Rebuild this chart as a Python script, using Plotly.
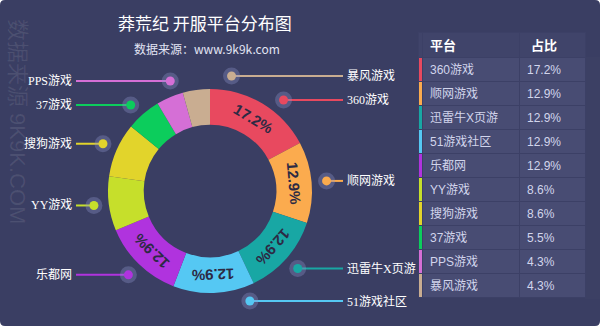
import math
import plotly.graph_objects as go

# ---------------- data ----------------
platforms = ["360游戏", "顺网游戏", "迅雷牛X页游", "51游戏社区", "乐都网",
             "YY游戏", "搜狗游戏", "37游戏", "PPS游戏", "暴风游戏"]
shares = [17.2, 12.9, 12.9, 12.9, 12.9, 8.6, 8.6, 5.5, 4.3, 4.3]
colors = ["#e8495f", "#fbab4e", "#18a7a4", "#55c8f3", "#b033de",
          "#c6df2b", "#e2d42b", "#0ccd5c", "#d56fd6", "#c9ad91"]
title_text = "莽荒纪 开服平台分布图"
subtitle_text = "数据来源：www.9k9k.com"
watermark_text = "数据来源 9K9K.COM"
table_header = ["平台", "占比"]

# ---------------- geometry (pixel space) ----------------
W, H = 600, 326
BG = "#3a3e63"
cx, cy = 210, 191
R_OUT = 102
HOLE = 0.65
R_TXT = R_OUT * (1 + HOLE) / 2
R_DOT = 117
MIN_SHARE_FOR_TEXT = 10  # small slices carry no inner label

total = sum(shares)
mids = []
acc = 0.0
for v in shares:
    mids.append((acc + v / 2) / total * 360.0)
    acc += v

# label anchor points and sides
ax_pts = []
sides = []
for m in mids:
    r = math.radians(m)
    ax_pts.append((cx + R_DOT * math.sin(r), cy - R_DOT * math.cos(r)))
    sides.append("R" if math.sin(r) > -0.2 else "L")


def spread(idx, gap=24, top=76, bottom=301):
    order = sorted(idx, key=lambda i: ax_pts[i][1])
    ys = [ax_pts[i][1] for i in order]
    for _ in range(50):
        for k in range(1, len(ys)):
            d = ys[k] - ys[k - 1]
            if d < gap:
                s = (gap - d) / 2
                ys[k - 1] -= s
                ys[k] += s
    ys[0] = max(ys[0], top)
    for k in range(1, len(ys)):
        ys[k] = max(ys[k], ys[k - 1] + gap)
    ys[-1] = min(ys[-1], bottom)
    for k in range(len(ys) - 2, -1, -1):
        ys[k] = min(ys[k], ys[k + 1] - gap)
    return dict(zip(order, ys))


ypos = {}
ypos.update(spread([i for i in range(len(shares)) if sides[i] == "R"]))
ypos.update(spread([i for i in range(len(shares)) if sides[i] == "L"]))

dots = []
for i in range(len(shares)):
    y = ypos[i]
    dx = math.sqrt(max(R_DOT ** 2 - (y - cy) ** 2, 0))
    x = cx + dx if sides[i] == "R" else cx - dx
    dots.append((x, y))

RIGHT_LINE_END, RIGHT_LABEL_X = 343, 345
LEFT_LINE_END, LEFT_LABEL_X = 76, 74

fig = go.Figure()

# donut
fig.add_trace(go.Pie(
    values=shares, labels=platforms, sort=False, direction="clockwise",
    rotation=0, hole=HOLE, textinfo="none", hoverinfo="skip",
    marker=dict(colors=colors, line=dict(width=0)),
    domain=dict(x=[(cx - R_OUT) / W, (cx + R_OUT) / W],
                y=[(H - cy - R_OUT) / H, (H - cy + R_OUT) / H]),
    showlegend=False,
))

# leader lines + dots
for i, (x, y) in enumerate(dots):
    xe = RIGHT_LINE_END if sides[i] == "R" else LEFT_LINE_END
    fig.add_trace(go.Scatter(x=[x, xe], y=[y, y], mode="lines",
                             line=dict(color=colors[i], width=2),
                             hoverinfo="skip", showlegend=False))
fig.add_trace(go.Scatter(x=[d[0] for d in dots], y=[d[1] for d in dots], mode="markers",
                         marker=dict(size=17, color="rgba(140,145,200,0.35)"),
                         hoverinfo="skip", showlegend=False))
fig.add_trace(go.Scatter(x=[d[0] for d in dots], y=[d[1] for d in dots], mode="markers",
                         marker=dict(size=9, color=colors),
                         hoverinfo="skip", showlegend=False))

annotations = []
# outer labels
for i, (x, y) in enumerate(dots):
    right = sides[i] == "R"
    annotations.append(dict(
        x=RIGHT_LABEL_X if right else LEFT_LABEL_X, y=y, xref="x", yref="y",
        text=platforms[i], showarrow=False,
        xanchor="left" if right else "right", yanchor="middle",
        font=dict(family="Liberation Serif, Noto Sans CJK SC", size=12, color="#ffffff"),
    ))

# percentage labels inside ring (tangential)
for i, m in enumerate(mids):
    if shares[i] < MIN_SHARE_FOR_TEXT:
        continue
    r = math.radians(m)
    ang = m if m <= 180 else m - 360
    annotations.append(dict(
        x=cx + R_TXT * math.sin(r), y=cy - R_TXT * math.cos(r), xref="x", yref="y",
        text="<b>%.1f%%</b>" % shares[i], showarrow=False, textangle=ang,
        xanchor="center", yanchor="middle",
        font=dict(family="Liberation Sans, Arial", size=15, color="#2c2a44"),
    ))

# titles and watermark
annotations.append(dict(x=205, y=22, xref="x", yref="y", text=title_text, showarrow=False,
                        font=dict(family="Noto Sans CJK SC", size=17, color="#ffffff")))
annotations.append(dict(x=207, y=48, xref="x", yref="y", text=subtitle_text, showarrow=False,
                        font=dict(family="Noto Sans CJK SC, Liberation Sans", size=12, color="#e2e4f4")))
annotations.append(dict(x=18, y=121, xref="x", yref="y", text=watermark_text, showarrow=False,
                        textangle=90,
                        font=dict(family="Liberation Sans, Noto Sans CJK SC", size=22,
                                  color="rgba(255,255,255,0.09)")))

# table
ROW_BG = "#484c73"
HEAD_BG = "#40446a"
TABLE_TOP, HEAD_H, ROW_H = 32, 25, 24
n = len(platforms)
fig.add_trace(go.Table(
    domain=dict(x=[418 / W, 585 / W], y=[1 - 299 / H, 1 - TABLE_TOP / H]),
    columnwidth=[4, 97, 66],
    header=dict(values=["", "", ""],
                fill_color=HEAD_BG, align="left", height=HEAD_H,
                line=dict(color="#3c4066", width=1)),
    cells=dict(values=[[""] * n, platforms, ["%.1f%%" % s for s in shares]],
               fill_color=[colors, [ROW_BG] * n, [ROW_BG] * n], align="left", height=ROW_H,
               line=dict(color="#3c4066", width=1),
               font=dict(family="Liberation Sans, Noto Sans CJK SC", size=12, color="#d2d5ec")),
))
# header titles of the table
for txt, hx in zip(table_header, [428, 529]):
    annotations.append(dict(x=hx, y=TABLE_TOP + HEAD_H / 2, xref="x", yref="y",
                            text="<b>%s</b>" % txt, showarrow=False,
                            xanchor="left", yanchor="middle",
                            font=dict(family="Noto Sans CJK SC", size=13, color="#ffffff")))

fig.update_layout(
    width=W, height=H, margin=dict(l=0, r=0, t=0, b=0),
    paper_bgcolor="#ffffff", plot_bgcolor="rgba(0,0,0,0)",
    xaxis=dict(range=[0, W], visible=False, fixedrange=True, domain=[0, 1]),
    yaxis=dict(range=[H, 0], visible=False, fixedrange=True, domain=[0, 1]),
    annotations=annotations,
    shapes=[dict(type="path", xref="x", yref="y", layer="below",
                 path="M5,0 H595 Q600,0 600,5 V321 Q600,326 595,326 H5 Q0,326 0,321 V5 Q0,0 5,0 Z",
                 fillcolor=BG, line=dict(width=0))],
    showlegend=False,
)

fig.write_html("out.html")
